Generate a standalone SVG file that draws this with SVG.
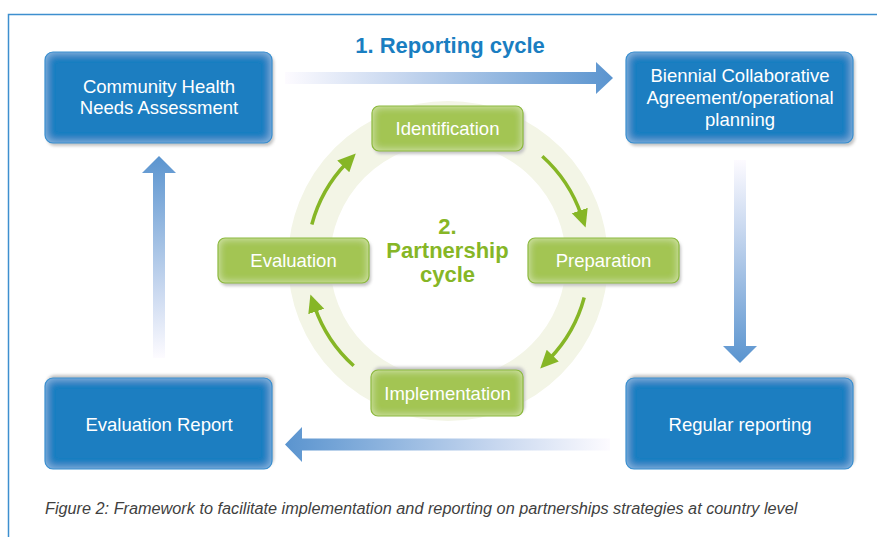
<svg xmlns="http://www.w3.org/2000/svg" width="877" height="537" viewBox="0 0 877 537">
  <style>
    .frame { fill: none; stroke: #3d8fcf; stroke-width: 1.5; }
    .blue-edge { fill: none; stroke: #3a8fd0; stroke-width: 1.2; }
    .green-edge { fill: none; stroke: #8cb93e; stroke-width: 1.2; }
    .shadow { fill: #c4c4c4; filter: url(#soft); }
    .blue-fill { fill: #1a7ec1; filter: url(#glowBlue); }
    .green-fill { fill: #a3c553; filter: url(#glowGreen); }
    .box-label { font-family: "Liberation Sans", Arial, sans-serif; font-size: 18.5px; fill: #ffffff; text-anchor: middle; }
    .title-blue { font-family: "Liberation Sans", Arial, sans-serif; font-size: 22px; font-weight: bold; fill: #1a7ec1; text-anchor: middle; }
    .title-green { font-family: "Liberation Sans", Arial, sans-serif; font-size: 22px; font-weight: bold; fill: #86b626; text-anchor: middle; }
    .caption { font-family: "Liberation Sans", Arial, sans-serif; font-size: 16.25px; font-style: italic; fill: #3f3f3f; }
    .cycle-arrow { fill: none; stroke: #86b626; stroke-width: 3.5; marker-end: url(#greenHead); }
  </style>
  <defs>
    <filter id="soft" x="-10%" y="-20%" width="120%" height="140%">
      <feGaussianBlur stdDeviation="1.5"/>
    </filter>
    <!-- inner glow: lighter band along the inside of the box edge -->
    <filter id="glowBlue" x="0" y="0" width="100%" height="100%">
      <feGaussianBlur in="SourceAlpha" stdDeviation="5" result="b"/>
      <feComposite in="SourceAlpha" in2="b" operator="arithmetic" k2="1" k3="-1" result="edge"/>
      <feFlood flood-color="#9cc6ea"/>
      <feComposite in2="edge" operator="in" result="glow"/>
      <feMerge><feMergeNode in="SourceGraphic"/><feMergeNode in="glow"/></feMerge>
    </filter>
    <filter id="glowGreen" x="0" y="0" width="100%" height="100%">
      <feGaussianBlur in="SourceAlpha" stdDeviation="4" result="b"/>
      <feComposite in="SourceAlpha" in2="b" operator="arithmetic" k2="1" k3="-1" result="edge"/>
      <feFlood flood-color="#dcebb4"/>
      <feComposite in2="edge" operator="in" result="glow"/>
      <feMerge><feMergeNode in="SourceGraphic"/><feMergeNode in="glow"/></feMerge>
    </filter>
    <linearGradient id="gradRight" gradientUnits="userSpaceOnUse" x1="285" y1="0" x2="613" y2="0">
      <stop offset="0" stop-color="#fdfbff"/>
      <stop offset="0.35" stop-color="#c7d7ef"/>
      <stop offset="1" stop-color="#5a94cf"/>
    </linearGradient>
    <linearGradient id="gradDown" gradientUnits="userSpaceOnUse" x1="0" y1="160" x2="0" y2="363">
      <stop offset="0" stop-color="#fdfbff"/>
      <stop offset="0.35" stop-color="#c7d7ef"/>
      <stop offset="1" stop-color="#5a94cf"/>
    </linearGradient>
    <linearGradient id="gradLeft" gradientUnits="userSpaceOnUse" x1="610" y1="0" x2="285" y2="0">
      <stop offset="0" stop-color="#fdfbff"/>
      <stop offset="0.35" stop-color="#c7d7ef"/>
      <stop offset="1" stop-color="#5a94cf"/>
    </linearGradient>
    <linearGradient id="gradUp" gradientUnits="userSpaceOnUse" x1="0" y1="358" x2="0" y2="156">
      <stop offset="0" stop-color="#fdfbff"/>
      <stop offset="0.35" stop-color="#c7d7ef"/>
      <stop offset="1" stop-color="#5a94cf"/>
    </linearGradient>
    <marker id="greenHead" markerUnits="userSpaceOnUse" markerWidth="18" markerHeight="18" viewBox="0 0 15 14" refX="4" refY="7" orient="auto">
      <path d="M0,0 L15,7 L0,14 Z" fill="#86b626"/>
    </marker>
  </defs>

  <!-- page frame -->
  <path class="frame" d="M877,14.5 H8.5 V537"/>

  <!-- partnership ring -->
  <circle id="ring" cx="448" cy="261" r="139" fill="none" stroke="#f3f5e6" stroke-width="42"/>

  <!-- connectors -->
  <g id="connectors">
    <path d="M285,72 H596 V62 L613,78 L596,94 V84 H285 Z" fill="url(#gradRight)"/>
    <path d="M734,160 V346 H723 L740,363 L757,346 H746 V160 Z" fill="url(#gradDown)"/>
    <path d="M610,438.5 H302 V427 L285,444.5 L302,462 V450.5 H610 Z" fill="url(#gradLeft)"/>
    <path d="M153,358 V173 H142 L159,156 L176,173 H165 V358 Z" fill="url(#gradUp)"/>
    <path class="cycle-arrow" d="M542.3,156.2 A141,141 0 0 1 581.3,215.1"/>
    <path class="cycle-arrow" d="M584.2,297.5 A141,141 0 0 1 549.4,359"/>
    <path class="cycle-arrow" d="M353.7,365.8 A141,141 0 0 1 314.7,306.9"/>
    <path class="cycle-arrow" d="M311.8,224.5 A141,141 0 0 1 346.6,163"/>
  </g>

  <text class="title-blue" x="450" y="53">1. Reporting cycle</text>

  <!-- reporting cycle boxes -->
  <g id="needs-assessment">
    <rect class="shadow" x="47" y="55" width="227" height="91" rx="8"/>
    <rect class="blue-fill" x="45" y="52" width="227" height="91" rx="8"/>
    <rect class="blue-edge" x="45" y="52" width="227" height="91" rx="8"/>
    <text class="box-label"><tspan x="159" y="93">Community Health</tspan><tspan x="159" y="114">Needs Assessment</tspan></text>
  </g>
  <g id="collaborative-agreement">
    <rect class="shadow" x="628" y="55" width="227" height="91" rx="8"/>
    <rect class="blue-fill" x="626" y="52" width="227" height="91" rx="8"/>
    <rect class="blue-edge" x="626" y="52" width="227" height="91" rx="8"/>
    <text class="box-label"><tspan x="740" y="82">Biennial Collaborative</tspan><tspan x="740" y="104">Agreement/operational</tspan><tspan x="740" y="126">planning</tspan></text>
  </g>
  <g id="evaluation-report">
    <rect class="shadow" x="47" y="375" width="227" height="91" rx="8"/>
    <rect class="blue-fill" x="45" y="378" width="227" height="91" rx="8"/>
    <rect class="blue-edge" x="45" y="378" width="227" height="91" rx="8"/>
    <text class="box-label" x="159" y="431">Evaluation Report</text>
  </g>
  <g id="regular-reporting">
    <rect class="shadow" x="628" y="375" width="227" height="91" rx="8"/>
    <rect class="blue-fill" x="626" y="378" width="227" height="91" rx="8"/>
    <rect class="blue-edge" x="626" y="378" width="227" height="91" rx="8"/>
    <text class="box-label" x="740" y="431">Regular reporting</text>
  </g>

  <!-- partnership cycle -->
  <text class="title-green"><tspan x="447.5" y="234">2.</tspan><tspan x="447.5" y="258">Partnership</tspan><tspan x="447.5" y="282">cycle</tspan></text>

  <g id="identification">
    <rect class="shadow" x="374" y="109" width="151" height="45" rx="7"/>
    <rect class="green-fill" x="372" y="106" width="151" height="45" rx="7"/>
    <rect class="green-edge" x="372" y="106" width="151" height="45" rx="7"/>
    <text class="box-label" x="447.5" y="135">Identification</text>
  </g>
  <g id="preparation">
    <rect class="shadow" x="530" y="241" width="151" height="45" rx="7"/>
    <rect class="green-fill" x="528" y="238" width="151" height="45" rx="7"/>
    <rect class="green-edge" x="528" y="238" width="151" height="45" rx="7"/>
    <text class="box-label" x="603.5" y="267">Preparation</text>
  </g>
  <g id="implementation">
    <rect class="shadow" x="373" y="367" width="152" height="46" rx="7"/>
    <rect class="green-fill" x="371" y="370" width="152" height="46" rx="7"/>
    <rect class="green-edge" x="371" y="370" width="152" height="46" rx="7"/>
    <text class="box-label" x="447.5" y="399.5">Implementation</text>
  </g>
  <g id="evaluation">
    <rect class="shadow" x="220" y="241" width="151" height="45" rx="7"/>
    <rect class="green-fill" x="218" y="238" width="151" height="45" rx="7"/>
    <rect class="green-edge" x="218" y="238" width="151" height="45" rx="7"/>
    <text class="box-label" x="293.5" y="267">Evaluation</text>
  </g>

  <text class="caption" x="45" y="514">Figure 2: Framework to facilitate implementation and reporting on partnerships strategies at country level</text>
</svg>
